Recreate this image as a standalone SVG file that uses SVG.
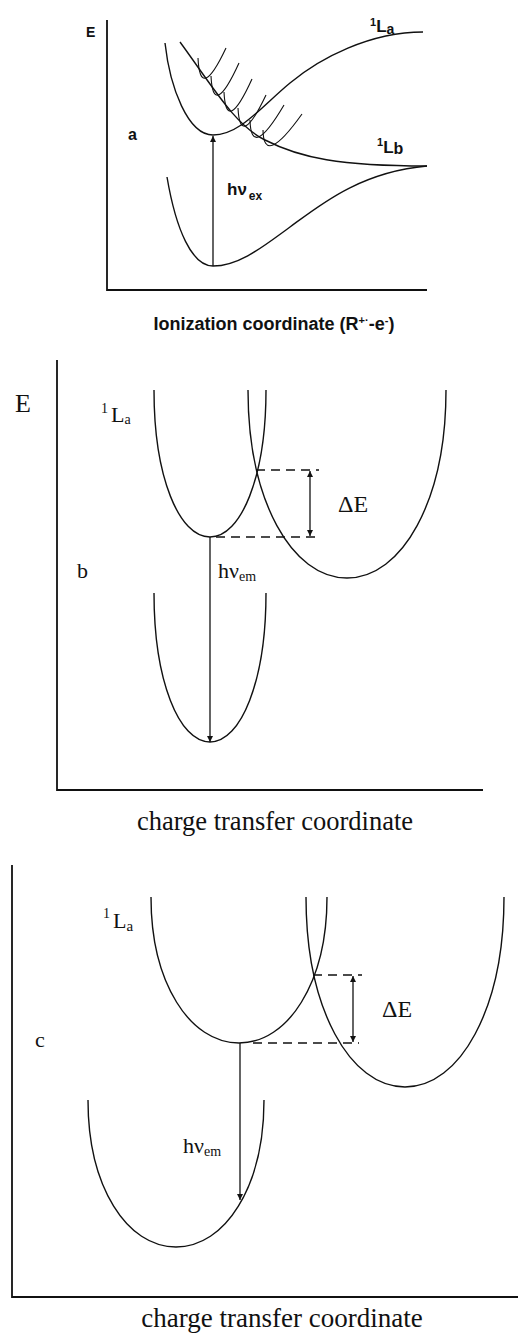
<svg xmlns="http://www.w3.org/2000/svg" width="518" height="1338" viewBox="0 0 518 1338">
<defs>
<style>
.ax{fill:none;stroke:#111;stroke-width:1.8}
.cv{fill:none;stroke:#111;stroke-width:1.4}
.th{fill:none;stroke:#111;stroke-width:1.1}
.ds{fill:none;stroke:#111;stroke-width:1.5;stroke-dasharray:9 6}
.ar{fill:none;stroke:#111;stroke-width:1.3}
.sa{font-family:"Liberation Sans",Arial,sans-serif;font-weight:bold;fill:#111}
.se{font-family:"Liberation Serif","Times New Roman",serif;fill:#111}
</style>
<marker id="ah" viewBox="0 0 10 10" refX="10" refY="5" markerWidth="9" markerHeight="6" markerUnits="userSpaceOnUse" orient="auto-start-reverse"><path d="M0,0 L10,5 L0,10 z" fill="#111"/></marker>
</defs>
<rect width="518" height="1338" fill="#fff"/>

<!-- Panel a -->
<g id="panel-a">
<path class="ax" d="M107,20 V290 H427"/>
<g id="a-1La-curve"><path class="cv" d="M165,43 C170,88 188,135 213,135 C240,135 262,106 290,83 C320,58 370,32 423,32"/></g>
<g id="a-1Lb-curve"><path class="cv" d="M180,42 C215,90 235,125 265,140 C300,158 340,166 427,166"/></g>
<g id="a-ground"><path class="cv" d="M167,177 C176,230 192,266 213,266 C240,266 265,245 290,227 C320,205 360,172 427,166"/></g>
<g id="a-hatches">
<path class="th" d="M198,58 Q200,103 226,48"/>
<path class="th" d="M211,76 Q213,120 239,63"/>
<path class="th" d="M224,92 Q226,136 252,79"/>
<path class="th" d="M238,108 Q240,150 266,95"/>
<path class="th" d="M250,120 Q251,161 284,105"/>
<path class="th" d="M263,130 Q263.5,168 302,114"/>
</g>
<text class="sa" x="86" y="37" font-size="14">E</text>
<text class="sa" x="128" y="140" font-size="16">a</text>
<text class="sa" x="370" y="26" font-size="11">1<tspan font-size="17" dy="6">L</tspan><tspan font-size="14" dy="2">a</tspan></text>
<text class="sa" x="377" y="146" font-size="11">1<tspan font-size="17" dy="7">L</tspan><tspan font-size="16" dy="1">b</tspan></text>
<text class="sa" x="227" y="195" font-size="17">hν<tspan font-size="12" dx="2" dy="5">ex</tspan></text>
<text class="sa" x="274" y="330" font-size="18" text-anchor="middle">Ionization coordinate (R<tspan font-size="11" dy="-6">+·</tspan><tspan dy="6">-e</tspan><tspan font-size="11" dy="-6">-</tspan><tspan dy="6">)</tspan></text>
</g>

<!-- Panel b -->
<g id="panel-b">
<path class="ax" d="M57,360 V790 H483"/>
<g id="b-1La-upper"><path class="cv" d="M154,390 C154,477 179,537 210,537 C241,537 266,477 266,390"/></g>
<g id="b-ct-state"><path class="cv" d="M248,390 C248,501 292,578 347,578 C402,578 446,501 446,390"/></g>
<g id="b-ground"><path class="cv" d="M154,593 C154,681 179,742 210,742 C241,742 266,681 266,593"/></g>
<text class="se" x="15" y="412" font-size="26">E</text>
<text class="se" x="101" y="413" font-size="14">1<tspan font-size="22" dx="3" dy="9">L</tspan><tspan font-size="14" dy="2">a</tspan></text>
<text class="se" x="77" y="578" font-size="22">b</text>
<text class="se" x="218" y="578" font-size="22">hν<tspan font-size="14" dy="3">em</tspan></text>
<text class="se" x="338" y="512" font-size="24">ΔE</text>
<text class="se" x="275" y="830" font-size="26.5" text-anchor="middle">charge transfer coordinate</text>
</g>

<!-- Panel c -->
<g id="panel-c">
<path class="ax" d="M12,865 V1297 H518"/>
<g id="c-1La-upper"><path class="cv" d="M151,897 C151,983 190,1043 239,1043 C288,1043 327,983 327,897"/></g>
<g id="c-ct-state"><path class="cv" d="M306,897 C306,1009 350,1087 405,1087 C460,1087 504,1009 504,897"/></g>
<g id="c-ground"><path class="cv" d="M88,1100 C88,1187 127,1247 176,1247 C225,1247 264,1187 264,1100"/></g>
<text class="se" x="103" y="918" font-size="14">1<tspan font-size="22" dx="3" dy="10">L</tspan><tspan font-size="15" dy="3">a</tspan></text>
<text class="se" x="35" y="1047" font-size="22">c</text>
<text class="se" x="183" y="1153" font-size="22">hν<tspan font-size="14" dy="3">em</tspan></text>
<text class="se" x="382" y="1017" font-size="24">ΔE</text>
<text class="se" x="282" y="1327" font-size="27" text-anchor="middle">charge transfer coordinate</text>
</g>

<!-- Connectors -->
<g id="connectors">
<line class="ar" x1="213" y1="266" x2="213" y2="136" marker-end="url(#ah)"/>
<line class="ar" x1="210" y1="537" x2="210" y2="742" marker-end="url(#ah)"/>
<line class="ds" x1="256" y1="470" x2="319" y2="470"/>
<line class="ds" x1="216" y1="537" x2="319" y2="537"/>
<line class="ar" x1="310" y1="471" x2="310" y2="536" marker-start="url(#ah)" marker-end="url(#ah)"/>
<line class="ar" x1="240" y1="1043" x2="240" y2="1200" marker-end="url(#ah)"/>
<line class="ds" x1="313" y1="975" x2="362" y2="975"/>
<line class="ds" x1="253" y1="1043" x2="359" y2="1043"/>
<line class="ar" x1="353" y1="976" x2="353" y2="1042" marker-start="url(#ah)" marker-end="url(#ah)"/>
</g>
</svg>
